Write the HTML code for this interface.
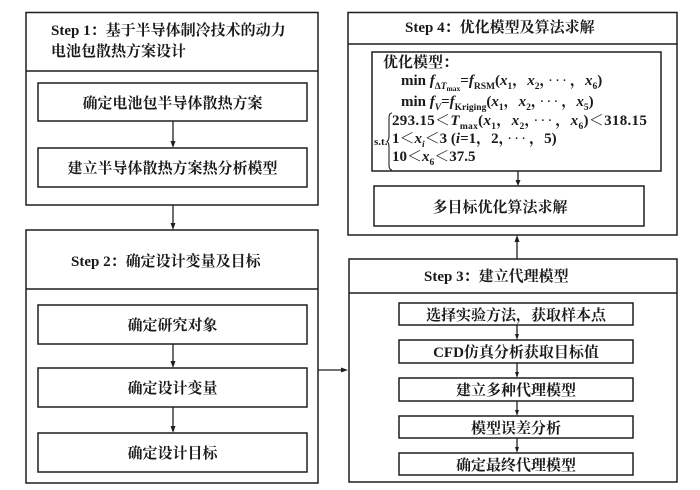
<!DOCTYPE html>
<html><head><meta charset="utf-8">
<style>
html,body{margin:0;padding:0;background:#fff;}
#c{position:relative;width:700px;height:490px;overflow:hidden;background:#fff;
font-family:"Liberation Serif","Noto Serif CJK SC",serif;font-weight:bold;color:#1a1a1a;}
svg{position:absolute;left:0;top:0;}
.t{position:absolute;white-space:nowrap;font-size:15px;line-height:18px;}
.cb{position:absolute;display:flex;align-items:center;justify-content:center;white-space:nowrap;font-size:15px;}
.m{position:absolute;white-space:nowrap;font-size:15px;line-height:18px;}
i{font-style:italic;}
.s{font-size:9.5px;position:relative;top:4px;font-style:normal;}
.si{font-size:9.5px;position:relative;top:4px;}
.ss{font-size:7.5px;position:relative;top:2px;font-style:normal;}
.d{letter-spacing:2px;font-weight:normal;padding:0 1px;}
</style></head><body>
<div id="c">
<svg width="700" height="490" viewBox="0 0 700 490">
<g fill="none" stroke="#1f1f1f" stroke-width="1.5">
<rect x="26" y="12.5" width="292" height="192.5"/>
<line x1="26" y1="71" x2="318" y2="71"/>
<rect x="38" y="83" width="269" height="38"/>
<rect x="38" y="148" width="269" height="39"/>
<rect x="26" y="230" width="292" height="253"/>
<line x1="26" y1="289" x2="318" y2="289"/>
<rect x="38" y="305" width="269" height="39"/>
<rect x="38" y="368" width="269" height="39"/>
<rect x="38" y="433" width="269" height="39"/>
<rect x="349" y="259" width="328" height="223"/>
<line x1="349" y1="293" x2="677" y2="293"/>
<rect x="399" y="303" width="234" height="22"/>
<rect x="399" y="340" width="234" height="23"/>
<rect x="399" y="378" width="234" height="23"/>
<rect x="399" y="416" width="234" height="22"/>
<rect x="399" y="453" width="234" height="22"/>
<rect x="348" y="12.5" width="329" height="222.5"/>
<line x1="348" y1="44" x2="677" y2="44"/>
<rect x="372" y="52" width="289" height="119"/>
<rect x="374" y="186" width="270" height="40"/>
</g>
<g stroke="#1f1f1f" stroke-width="1.3">
<line x1="173" y1="121" x2="173" y2="142"/>
<line x1="173" y1="205" x2="173" y2="224"/>
<line x1="173" y1="344" x2="173" y2="362"/>
<line x1="173" y1="407" x2="173" y2="427"/>
<line x1="318" y1="370" x2="342" y2="370"/>
<line x1="517" y1="325" x2="517" y2="335"/>
<line x1="517" y1="363" x2="517" y2="373"/>
<line x1="517" y1="401" x2="517" y2="411"/>
<line x1="517" y1="438" x2="517" y2="448"/>
<line x1="517" y1="259" x2="517" y2="241"/>
<line x1="518" y1="171" x2="518" y2="180"/>
</g>
<g fill="#1f1f1f">
<polygon points="170.5,141 175.5,141 173,148"/>
<polygon points="170.5,223 175.5,223 173,230"/>
<polygon points="170.5,361 175.5,361 173,368"/>
<polygon points="170.5,426 175.5,426 173,433"/>
<polygon points="341,367.5 341,372.5 348,370"/>
<polygon points="515,334 519,334 517,340"/>
<polygon points="515,372 519,372 517,378"/>
<polygon points="515,410 519,410 517,416"/>
<polygon points="515,447 519,447 517,453"/>
<polygon points="514.5,242 519.5,242 517,235"/>
<polygon points="515.5,180 520.5,180 518,186"/>
</g>
<path d="M392,113 Q389,113 389,118 L389,136 Q389,141 386.5,141.5 Q389,142 389,147 L389,165 Q389,170 392,170" fill="none" stroke="#1f1f1f" stroke-width="1.1"/>
</svg>

<div class="t" style="left:51px;top:22px;">Step 1：基于半导体制冷技术的动力</div>
<div class="t" style="left:51px;top:43px;">电池包散热方案设计</div>
<div class="cb" style="left:38px;top:83px;width:269px;height:38px;">确定电池包半导体散热方案</div>
<div class="cb" style="left:38px;top:148px;width:269px;height:39px;">建立半导体散热方案热分析模型</div>

<div class="t" style="left:71px;top:253px;">Step 2：确定设计变量及目标</div>
<div class="cb" style="left:38px;top:305px;width:269px;height:39px;">确定研究对象</div>
<div class="cb" style="left:38px;top:368px;width:269px;height:39px;">确定设计变量</div>
<div class="cb" style="left:38px;top:433px;width:269px;height:39px;">确定设计目标</div>

<div class="t" style="left:424px;top:268px;">Step 3：建立代理模型</div>
<div class="cb" style="left:399px;top:303px;width:234px;height:22px;">选择实验方法，获取样本点</div>
<div class="cb" style="left:399px;top:340px;width:234px;height:23px;">CFD仿真分析获取目标值</div>
<div class="cb" style="left:399px;top:378px;width:234px;height:23px;">建立多种代理模型</div>
<div class="cb" style="left:399px;top:416px;width:234px;height:22px;">模型误差分析</div>
<div class="cb" style="left:399px;top:453px;width:234px;height:22px;">确定最终代理模型</div>

<div class="t" style="left:405px;top:19px;">Step 4：优化模型及算法求解</div>
<div class="t" style="left:383px;top:54px;">优化模型：</div>
<div class="m" style="left:401px;top:72px;">min <i>f</i><span class="s">Δ<i>T</i><span class="ss">max</span></span>=<i>f</i><span class="s">RSM</span>(<i>x</i><span class="s">1</span>，<i>x</i><span class="s">2</span>，<span class="d">···</span>，<i>x</i><span class="s">6</span>)</div>
<div class="m" style="left:401px;top:93px;">min <i>f</i><span class="si"><i>V</i></span>=<i>f</i><span class="s">Kriging</span>(<i>x</i><span class="s">1</span>，<i>x</i><span class="s">2</span>，<span class="d">···</span>，<i>x</i><span class="s">5</span>)</div>
<div class="m" style="left:392px;top:112px;letter-spacing:0.3px;">293.15＜<i>T</i><span class="s">max</span>(<i>x</i><span class="s">1</span>，<i>x</i><span class="s">2</span>，<span class="d">···</span>，<i>x</i><span class="s">6</span>)＜318.15</div>
<div class="m" style="left:374px;top:133px;font-size:11px;">s.t.</div>
<div class="m" style="left:392px;top:130px;">1＜<i>x</i><span class="s"><i>i</i></span>＜3 (<i>i</i>=1，2，<span class="d">···</span>，5)</div>
<div class="m" style="left:392px;top:148px;">10＜<i>x</i><span class="s">6</span>＜37.5</div>
<div class="cb" style="left:374px;top:186px;width:252px;height:40px;">多目标优化算法求解</div>
</div>
</body></html>
